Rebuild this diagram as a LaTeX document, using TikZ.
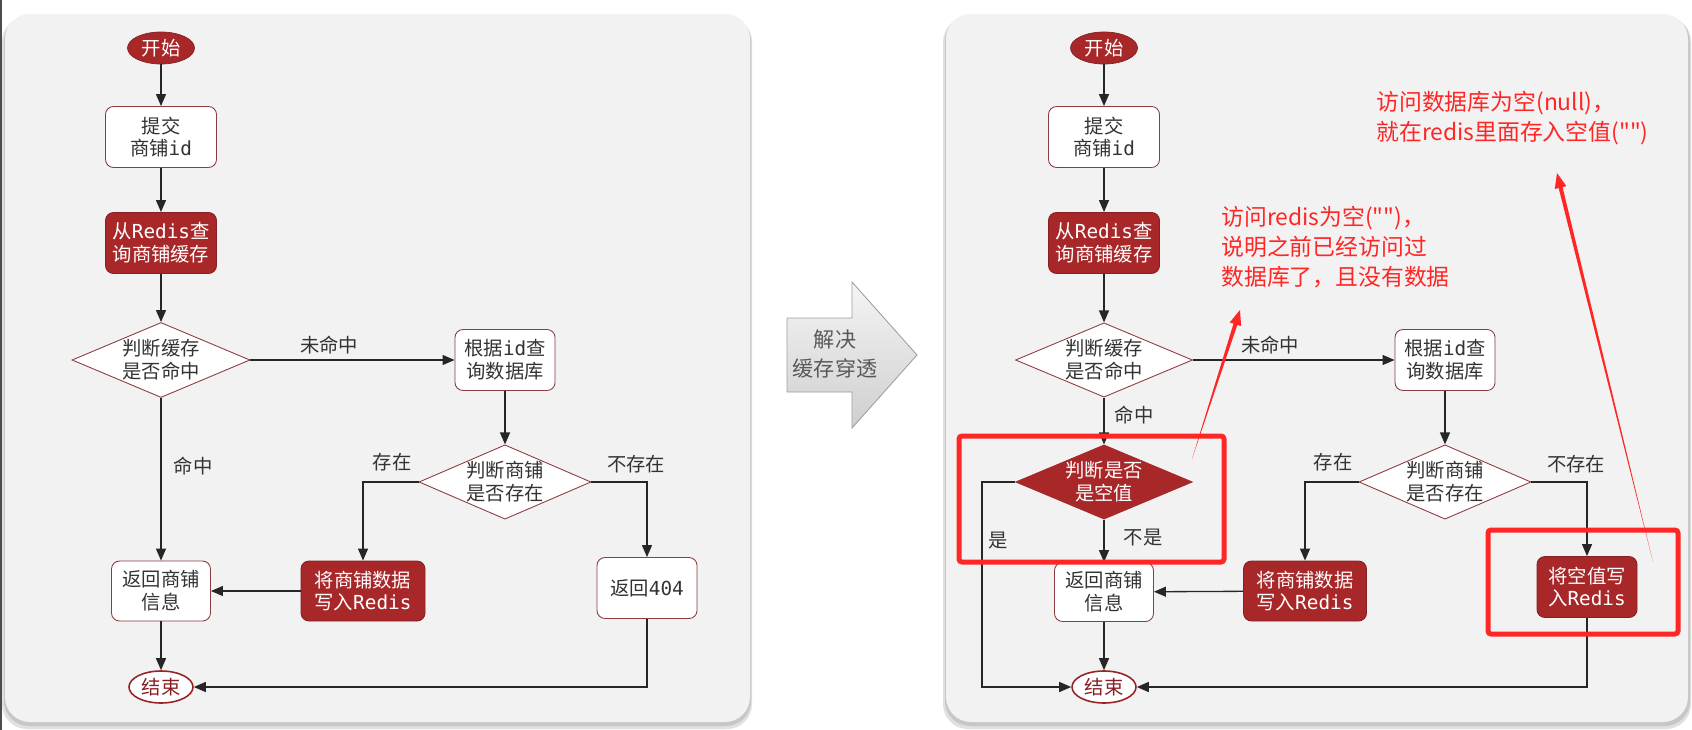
\documentclass[tikz,border=0pt]{standalone}
\usepackage{fontspec}
\setmainfont{Noto Sans CJK SC}
\newfontfamily\mono{DejaVu Sans Mono}
\newfontfamily\notefont{Noto Sans CJK SC}[Ligatures=TeXOff]
\usetikzlibrary{shapes.geometric,arrows.meta,calc}

\definecolor{boxred}{RGB}{168,40,42}
\definecolor{edgered}{RGB}{140,60,64}
\definecolor{panelgray}{RGB}{242,242,242}
\definecolor{textgray}{RGB}{51,51,51}
\definecolor{notered}{RGB}{255,38,38}

\tikzset{
  flow/.style={font=\fontsize{11}{13}\selectfont, text=textgray, align=center, inner sep=0pt},
  plainbox/.style={flow, rectangle, rounded corners=1.6mm, draw=edgered, line width=0.5pt, fill=white},
  redbox/.style={flow, rectangle, rounded corners=1.6mm, draw=boxred!80!black, line width=0.5pt, fill=boxred, text=white},
  plaindec/.style={flow, diamond, aspect=2.3, draw=edgered, line width=0.5pt, fill=white},
  reddec/.style={flow, diamond, aspect=2.3, draw=boxred, fill=boxred, text=white},
  startnode/.style={flow, ellipse, fill=boxred, draw=boxred!80!black, text=white, minimum width=13.4mm, minimum height=6.4mm},
  endnode/.style={flow, ellipse, fill=white, draw=boxred!90!black, line width=0.9pt, text=boxred!80!black, minimum width=12.8mm, minimum height=6.4mm},
  link/.style={line width=0.75pt, draw=black!85, -{Triangle[length=2.4mm,width=2mm]}},
  lbl/.style={font=\fontsize{11}{13}\selectfont, text=textgray},
  remark/.style={font=\notefont\fontsize{13}{17}\selectfont, text=notered, align=left, anchor=west, inner sep=0pt},
  hilite/.style={draw=notered, line width=1mm, rounded corners=0.6mm},
  panel/.style={fill=panelgray, rounded corners=5mm},
}

% red tapered pointer: #1 tail, #2 tip
\newcommand{\mkpointer}[2]{%
  \coordinate (pbase) at ($(#2)!3mm!(#1)$);
  \fill[notered] (#1) -- ($(pbase)!0.4mm!90:(#2)$) -- ($(pbase)!1.2mm!90:(#2)$) -- (#2)
    -- ($(pbase)!1.2mm!-90:(#2)$) -- ($(pbase)!0.4mm!-90:(#2)$) -- cycle;
}

\begin{document}
\begin{tikzpicture}[x=0.2mm,y=-0.2mm]
  % canvas
  \useasboundingbox (0,0) rectangle (1692,730);
  \fill[white] (0,0) rectangle (1692,730);
  \fill[black!70] (0,0) rectangle (2,730);

  % panels with shadow
  \fill[black!12, rounded corners=5mm] (2,17) rectangle (752,729);
  \fill[black!22, rounded corners=5mm] (4,16) rectangle (751,726);
  \fill[panel] (5,14) rectangle (750,722);
  \fill[black!12, rounded corners=5mm] (943,17) rectangle (1691,729);
  \fill[black!22, rounded corners=5mm] (945,16) rectangle (1690,726);
  \fill[panel] (946,14) rectangle (1688,722);

  % ---- left: before ----
  \node[startnode] (lstart) at (161,48) {开始};
  \node[plainbox, minimum width=22.2mm, minimum height=12.2mm] (lsubmit) at (161,137) {提交\\商铺{\mono id}};
  \node[redbox, minimum width=22.2mm, minimum height=12.2mm] (lquery) at (161,243) {从{\mono Redis}查\\询商铺缓存};
  \node[plaindec, minimum width=35.6mm, minimum height=15mm] (lhit) at (161,360) {判断缓存\\是否命中};
  \node[plainbox, minimum width=20mm, minimum height=12.2mm] (ldb) at (505,360) {根据{\mono id}查\\询数据库};
  \node[plaindec, minimum width=34.4mm, minimum height=14.6mm] (lexist) at (505,482) {判断商铺\\是否存在};
  \node[plainbox, minimum width=19.8mm, minimum height=12mm] (lret) at (161,591) {返回商铺\\信息};
  \node[redbox, minimum width=24.8mm, minimum height=12mm] (lwrite) at (363,591) {将商铺数据\\写入{\mono Redis}};
  \node[plainbox, minimum width=20mm, minimum height=12.2mm] (l404) at (647,588) {返回{\mono 404}};
  \node[endnode] (lend) at (161,687) {结束};

  \draw[link] (lstart) -- (lsubmit);
  \draw[link] (lsubmit) -- (lquery);
  \draw[link] (lquery) -- (lhit);
  \draw[link] (lhit) -- (ldb);
  \draw[link] (lhit) -- (lret);
  \draw[link] (ldb) -- (lexist);
  \draw[link] (lexist.west) -| (lwrite.north);
  \draw[link] (lexist.east) -| (l404.north);
  \draw[link] (lwrite) -- (lret);
  \draw[link] (lret) -- (lend);
  \draw[link] (l404.south) |- (lend.east);

  \node[lbl] (lmiss) at (329,345) {未命中};
  \node[lbl] (lhitlbl) at (193,466) {命中};
  \node[lbl] (lyes) at (392,462) {存在};
  \node[lbl] (lno) at (636,464) {不存在};

  % ---- middle arrow ----
  \shade[top color=gray!8, bottom color=gray!38, draw=gray!75, line width=0.5pt]
    (787,318) -- (852,318) -- (852,282) -- (917,355) -- (852,428) -- (852,392) -- (787,392) -- cycle;
  \node[font=\fontsize{12}{16}\selectfont, text=black!65, align=center] (fixlbl) at (835,354) {解决\\缓存穿透};

  % ---- right: after ----
  \node[startnode] (rstart) at (1104,48) {开始};
  \node[plainbox, minimum width=22.2mm, minimum height=12.2mm] (rsubmit) at (1104,137) {提交\\商铺{\mono id}};
  \node[redbox, minimum width=22.2mm, minimum height=12.2mm] (rquery) at (1104,243) {从{\mono Redis}查\\询商铺缓存};
  \node[plaindec, minimum width=35.4mm, minimum height=14.6mm] (rhit) at (1104,360) {判断缓存\\是否命中};
  \node[plainbox, minimum width=20mm, minimum height=12.2mm] (rdb) at (1445,360) {根据{\mono id}查\\询数据库};
  \node[reddec, minimum width=35.4mm, minimum height=14.4mm] (rnull) at (1104,482) {判断是否\\是空值};
  \node[plaindec, minimum width=34.4mm, minimum height=14.6mm] (rexist) at (1445,482) {判断商铺\\是否存在};
  \node[plainbox, minimum width=19.8mm, minimum height=11.8mm] (rret) at (1104,592) {返回商铺\\信息};
  \node[redbox, minimum width=24.6mm, minimum height=12mm] (rwrite) at (1305,591) {将商铺数据\\写入{\mono Redis}};
  \node[redbox, minimum width=20mm, minimum height=12.2mm] (rnullw) at (1587,587) {将空值写\\入{\mono Redis}};
  \node[endnode] (rend) at (1104,687) {结束};

  \draw[link] (rstart) -- (rsubmit);
  \draw[link] (rsubmit) -- (rquery);
  \draw[link] (rquery) -- (rhit);
  \draw[link] (rhit) -- (rdb);
  \draw[link] (rhit) -- (rnull);
  \draw[link] (rnull) -- (rret);
  \draw[link] (rnull.west) -- ++(-33,0) |- (rend.west);
  \draw[link] (rdb) -- (rexist);
  \draw[link] (rexist.west) -| (rwrite.north);
  \draw[link] (rexist.east) -| (rnullw.north);
  \draw[link] (rwrite) -- (rret);
  \draw[link] (rret) -- (rend);
  \draw[link] (rnullw.south) |- (rend.east);

  \node[lbl] (rmiss) at (1270,345) {未命中};
  \node[lbl] (rhitlbl) at (1134,415) {命中};
  \node[lbl] (ryes) at (998,541) {是};
  \node[lbl] (rnotlbl) at (1143,538) {不是};
  \node[lbl] (ryes2) at (1333,462) {存在};
  \node[lbl] (rno2) at (1576,464) {不存在};

  % highlights and remarks
  \draw[hilite] (959,436) rectangle (1224,562);
  \draw[hilite] (1488,530) rectangle (1678,634);

  \node[remark] (dbnote) at (1376,118) {访问数据库为空(null)，\\就在redis里面存入空值("")};
  \node[remark] (cachenote) at (1221,247) {访问redis为空("")，\\说明之前已经访问过\\数据库了，且没有数据};

  \coordinate (tailA) at (1192,459);
  \coordinate (tipA) at (1240,310);
  \coordinate (tailB) at (1653,562);
  \coordinate (tipB) at (1557,173);
  \mkpointer{tailA}{tipA}
  \mkpointer{tailB}{tipB}
\end{tikzpicture}
\end{document}
